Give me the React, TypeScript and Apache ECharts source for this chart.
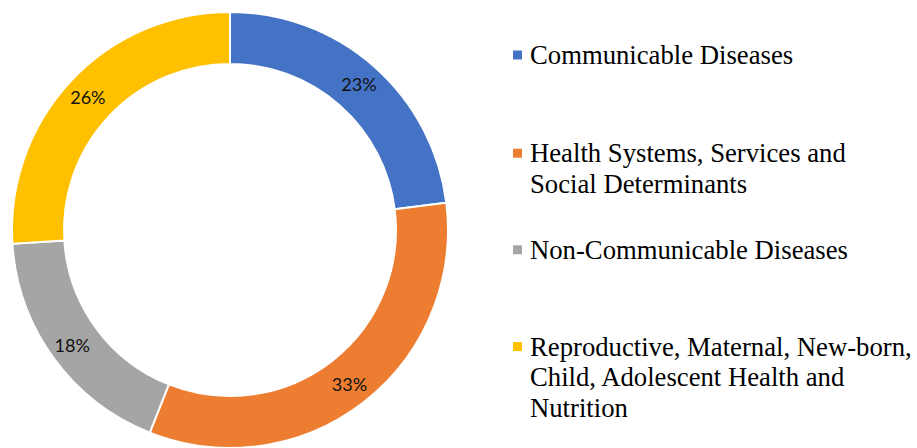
import React, { useEffect, useRef } from "react";
import * as echarts from "echarts";

const categories = [
  "Communicable Diseases",
  "Health Systems, Services and\nSocial Determinants",
  "Non-Communicable Diseases",
  "Reproductive, Maternal, New-born,\nChild, Adolescent Health and\nNutrition",
];
const values = [23, 33, 18, 26];
const colors = ["#4472C4", "#ED7D31", "#A5A5A5", "#FFC000"];
const legendFirstLineCenters = [55, 153.2, 249.8, 346.6];

export default function App() {
  const ref = useRef<HTMLDivElement>(null);
  useEffect(() => {
    document.body.style.margin = "0";
    const chart = echarts.init(ref.current!, null, { renderer: "svg" });
    const lineH = 30.7;
    const graphic: any[] = [];
    categories.forEach((name, i) => {
      const cy = legendFirstLineCenters[i];
      graphic.push({
        type: "rect",
        shape: { x: 513, y: cy - 4.5, width: 9, height: 9 },
        style: { fill: colors[i] },
      });
      graphic.push({
        type: "text",
        x: 530,
        y: cy - lineH / 2,
        style: {
          text: name,
          fill: "#000",
          fontFamily: "Liberation Serif",
          fontSize: 26.7,
          lineHeight: lineH,
          verticalAlign: "top",
          align: "left",
        },
      });
    });
    chart.setOption({
      animation: false,
      backgroundColor: "#fff",
      graphic,
      series: [
        {
          type: "pie",
          center: [230, 230],
          radius: [166, 218],
          startAngle: 90,
          clockwise: true,
          avoidLabelOverlap: false,
          itemStyle: { borderColor: "#fff", borderWidth: 2 },
          label: {
            show: true,
            position: "inside",
            formatter: (p: any) => p.value + "%",
            color: "#111",
            fontFamily: "Lato",
            fontSize: 18,
          },
          labelLine: { show: false },
          emphasis: { disabled: true },
          data: categories.map((n, i) => ({
            name: n,
            value: values[i],
            itemStyle: { color: colors[i] },
          })),
        },
      ],
    });
    return () => chart.dispose();
  }, []);
  return (
    <div
      ref={ref}
      style={{ position: "absolute", left: 0, top: 0, width: 917, height: 448 }}
    />
  );
}
